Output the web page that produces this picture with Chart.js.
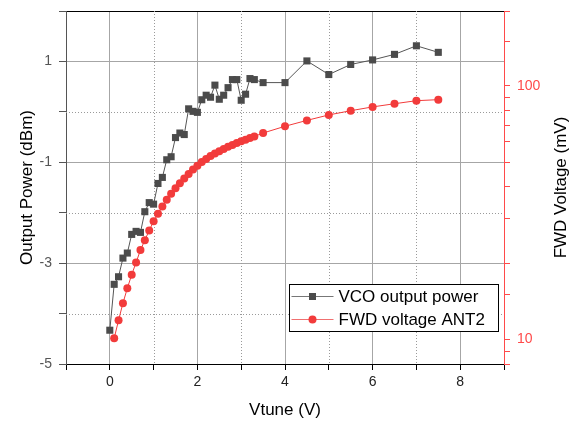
<!DOCTYPE html>
<html>
  <head>
    <style>
      body {
        margin: 0;
        background: #fff;
      }
    </style>
  </head>
  <body>
    <canvas id="chart" width="570" height="422"></canvas>

    <script src="https://cdn.jsdelivr.net/npm/chart.js"></script>
    <script>
      // VCO output power (dBm) vs Vtune (V)
      const vcoVtune = [0, 0.1, 0.2, 0.3, 0.4, 0.5, 0.6, 0.7, 0.8, 0.9, 1.0, 1.1, 1.2, 1.3, 1.4, 1.5, 1.6, 1.7,
        1.8, 1.9, 2.0, 2.1, 2.2, 2.3, 2.4, 2.5, 2.6, 2.7, 2.8, 2.9, 3.0, 3.1, 3.2, 3.3,
        3.5, 4.0, 4.5, 5.0, 5.5, 6.0, 6.5, 7.0, 7.5];
      const vcoPower = [-4.33, -3.42, -3.27, -2.90, -2.80, -2.43, -2.37, -2.39, -1.98, -1.80, -1.83, -1.42,
        -1.30, -0.95, -0.89, -0.51, -0.42, -0.45, 0.06, 0.01, -0.01, 0.24, 0.33, 0.29, 0.53, 0.25, 0.33,
        0.48, 0.64, 0.64, 0.23, 0.35, 0.66, 0.64,
        0.58, 0.58, 1.01, 0.74, 0.94, 1.03, 1.14, 1.31, 1.18];

      // FWD voltage ANT2 (mV, log axis) vs Vtune (V)
      const fwdVtune = [0.1, 0.2, 0.3, 0.4, 0.5, 0.6, 0.7, 0.8, 0.9, 1.0, 1.1, 1.2, 1.3, 1.4, 1.5, 1.6, 1.7,
        1.8, 1.9, 2.0, 2.1, 2.2, 2.3, 2.4, 2.5, 2.6, 2.7, 2.8, 2.9, 3.0, 3.1, 3.2, 3.3,
        3.5, 4.0, 4.5, 5.0, 5.5, 6.0, 6.5, 7.0, 7.5];
      const fwdVoltage = [10.1, 11.9, 13.9, 15.9, 18.0, 20.1, 22.5, 24.6, 26.9, 29.2, 31.3, 33.4, 35.5, 37.5,
        39.4, 41.3, 43.1, 44.9, 46.7, 48.4, 50.0, 51.4, 52.8, 54.0, 55.2, 56.3, 57.4, 58.4, 59.4, 60.4,
        61.2, 62.2, 63.1,
        65.1, 69.2, 73.0, 76.7, 79.7, 82.5, 84.9, 87.3, 88.1];

      const xTickLabels = [0, 2, 4, 6, 8];
      const xMinorTicks = [1, 3, 5, 7];
      const powerTickLabels = [-5, -3, -1, 1];
      const powerMinorTicks = [-4, -2, 0];
      const fwdTickLabels = [10, 100];

      const FONT = '"Liberation Sans", Arial, sans-serif';
      const RED = '#f23b3b';
      const DARK = '#4b4b4b';
      const MAJOR_GRID = '#a6a6a6';
      const MINOR_GRID = '#9a9a9a';
      const NONE = 'rgba(0,0,0,0)';

      const toPoints = (xs, ys) => xs.map((x, i) => ({ x: x, y: ys[i] }));
      const hasLabel = (list, v) => list.some((t) => Math.abs(t - v) < 1e-6);

      // dotted minor grid lines, placed through the chart's own scales
      const minorGrid = {
        id: 'minorGrid',
        beforeDatasetsDraw(chart) {
          const { ctx, chartArea: a, scales } = chart;
          ctx.save();
          ctx.strokeStyle = MINOR_GRID;
          ctx.lineWidth = 1;
          ctx.setLineDash([1, 2]);
          ctx.beginPath();
          xMinorTicks.forEach((v) => {
            const px = Math.round(scales.x.getPixelForValue(v)) + 0.5;
            ctx.moveTo(px, a.top);
            ctx.lineTo(px, a.bottom);
          });
          powerMinorTicks.forEach((v) => {
            const py = Math.round(scales.y.getPixelForValue(v)) + 0.5;
            ctx.moveTo(a.left, py);
            ctx.lineTo(a.right, py);
          });
          ctx.stroke();
          ctx.restore();
        },
      };

      // right axis title (reads bottom to top) and the boxed legend
      const extras = {
        id: 'extras',
        afterDraw(chart) {
          const { ctx, chartArea } = chart;
          ctx.save();
          ctx.font = '17px ' + FONT;
          ctx.fillStyle = '#000';
          ctx.textAlign = 'center';
          ctx.textBaseline = 'middle';
          ctx.translate(561, (chartArea.top + chartArea.bottom) / 2);
          ctx.rotate(-Math.PI / 2);
          ctx.fillText('FWD Voltage (mV)', 0, 0);
          ctx.restore();

          const box = { x: 289.5, y: 284.5, w: 209, h: 47 };
          ctx.save();
          ctx.fillStyle = '#fff';
          ctx.fillRect(box.x, box.y, box.w, box.h);
          ctx.strokeStyle = '#000';
          ctx.lineWidth = 1;
          ctx.strokeRect(box.x, box.y, box.w, box.h);

          chart.data.datasets.forEach((ds, i) => {
            const y = box.y + 12 + i * 23;
            ctx.strokeStyle = ds.legendLine;
            ctx.lineWidth = 1;
            ctx.beginPath();
            ctx.moveTo(box.x + 2, y);
            ctx.lineTo(box.x + 44, y);
            ctx.stroke();
            ctx.fillStyle = ds.pointBackgroundColor;
            const cx = box.x + 23;
            if (ds.pointStyle === 'rect') {
              ctx.fillRect(cx - 3.5, y - 3.5, 7, 7);
            } else {
              ctx.beginPath();
              ctx.arc(cx, y, 4, 0, Math.PI * 2);
              ctx.fill();
            }
            ctx.fillStyle = '#000';
            ctx.font = '17px ' + FONT;
            ctx.textAlign = 'left';
            ctx.textBaseline = 'middle';
            ctx.fillText(ds.label, box.x + 49, y + 1);
          });
          ctx.restore();
        },
      };

      const config = {
        type: 'line',
        data: {
          datasets: [
            {
              label: 'VCO output power',
              data: toPoints(vcoVtune, vcoPower),
              yAxisID: 'y',
              borderColor: '#555',
              borderWidth: 1,
              pointStyle: 'rect',
              pointRadius: 5,
              pointBorderWidth: 0,
              pointBackgroundColor: DARK,
              pointBorderColor: DARK,
              legendLine: '#777',
            },
            {
              label: 'FWD voltage ANT2',
              data: toPoints(fwdVtune, fwdVoltage),
              yAxisID: 'y2',
              borderColor: RED,
              borderWidth: 1,
              pointStyle: 'circle',
              pointRadius: 4,
              pointBorderWidth: 0,
              pointBackgroundColor: RED,
              pointBorderColor: RED,
              legendLine: '#f07070',
            },
          ],
        },
        options: {
          responsive: false,
          animation: false,
          events: [],
          layout: { padding: 0 },
          plugins: {
            legend: { display: false },
            tooltip: { enabled: false },
          },
          scales: {
            x: {
              type: 'linear',
              position: 'bottom',
              min: -1,
              max: 9,
              afterFit: (s) => { s.height = 58; s.paddingLeft = 0; s.paddingRight = 0; },
              border: { color: '#000', width: 1 },
              grid: {
                color: (c) => (c.tick && hasLabel(xTickLabels, c.tick.value) ? MAJOR_GRID : NONE),
                tickColor: '#000',
                tickLength: 6,
              },
              ticks: {
                stepSize: 1,
                autoSkip: false,
                maxRotation: 0,
                padding: 4,
                color: '#222',
                font: { family: FONT, size: 14 },
                callback: (v) => (hasLabel(xTickLabels, v) ? String(v) : ''),
              },
              title: {
                display: true,
                text: 'Vtune (V)',
                color: '#000',
                font: { family: FONT, size: 17, lineHeight: 1 },
                padding: { top: 0, bottom: 3 },
              },
            },
            xTop: {
              type: 'linear',
              position: 'top',
              min: -1,
              max: 9,
              afterFit: (s) => { s.height = 11; s.paddingLeft = 0; s.paddingRight = 0; },
              border: { color: '#000', width: 1 },
              grid: { drawOnChartArea: false, drawTicks: false },
              ticks: { display: false },
            },
            y: {
              type: 'linear',
              position: 'left',
              min: -5,
              max: 2,
              afterFit: (s) => { s.width = 66; s.paddingTop = 0; s.paddingBottom = 0; },
              border: { color: '#555', width: 1 },
              grid: {
                color: (c) => (c.tick && hasLabel(powerTickLabels, c.tick.value) ? MAJOR_GRID : NONE),
                tickColor: '#555',
                tickLength: 7,
              },
              ticks: {
                stepSize: 1,
                autoSkip: false,
                padding: 7,
                color: '#555',
                font: { family: FONT, size: 14 },
                callback: (v) => (hasLabel(powerTickLabels, v) ? String(v) : ''),
              },
              title: {
                display: true,
                text: 'Output Power (dBm)',
                color: '#000',
                font: { family: FONT, size: 17, lineHeight: 1 },
                padding: { top: 19, bottom: 0 },
              },
            },
            y2: {
              type: 'logarithmic',
              position: 'right',
              min: 8,
              max: 197,
              afterFit: (s) => { s.width = 66; s.paddingTop = 0; s.paddingBottom = 0; },
              border: { color: '#ff4a4a', width: 1 },
              grid: {
                drawOnChartArea: false,
                tickColor: '#ff4a4a',
                tickLength: 6,
              },
              ticks: {
                autoSkip: false,
                padding: 7,
                color: '#ff4a4a',
                font: { family: FONT, size: 14 },
                callback: (v) => (hasLabel(fwdTickLabels, v) ? String(v) : ''),
              },
            },
          },
        },
        plugins: [minorGrid, extras],
      };

      const chart = new Chart(document.getElementById('chart'), config);
    </script>
  </body>
</html>
